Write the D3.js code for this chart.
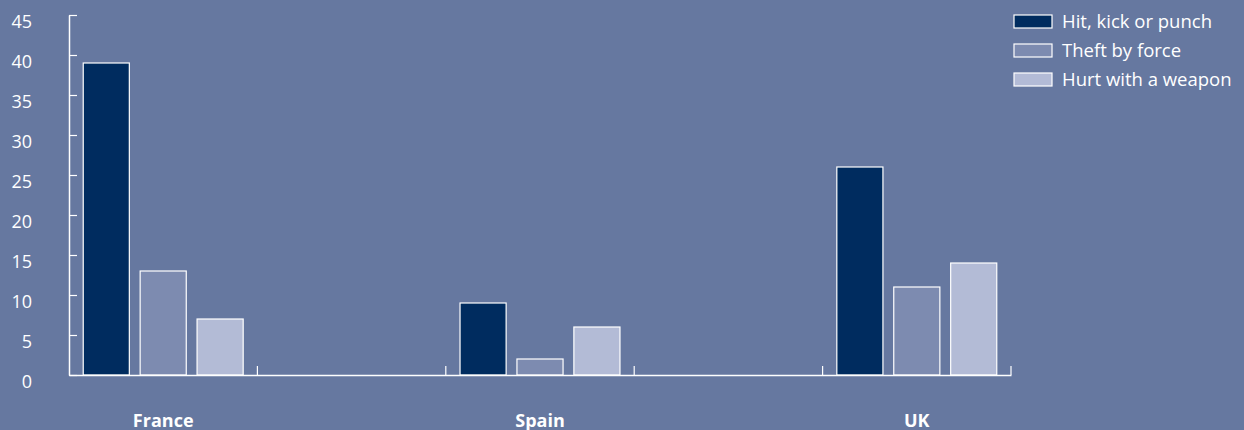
<!DOCTYPE html>
<html>
<head>
<meta charset="utf-8">
<script src="https://cdn.jsdelivr.net/npm/d3@7"></script>
<style>
  html, body { margin: 0; padding: 0; background: #6678a0; }
  svg { display: block; }
</style>
</head>
<body>
<script>
// --- data ---
const slots = ["France", "", "Spain", "", "UK"]; // empty slots are gaps on the x axis
const countries = ["France", "Spain", "UK"];
const series = ["Hit, kick or punch", "Theft by force", "Hurt with a weapon"];
const hitKickPunch = [39, 9, 26];
const theftByForce = [13, 2, 11];
const hurtWithWeapon = [7, 6, 14];
const yTicks = [0, 5, 10, 15, 20, 25, 30, 35, 40, 45];

const seriesValues = [hitKickPunch, theftByForce, hurtWithWeapon];
const colors = ["#002c5f", "#7d8bb0", "#b3bbd6"];

const width = 1244;
const height = 430;
const margin = { top: 15, right: 233, bottom: 55, left: 69 };
const font = "'Open Sans', 'Noto Sans', sans-serif";

const rows = countries.map((c, i) => ({
  slot: slots.indexOf(c),
  values: series.map((s, j) => ({ key: s, value: seriesValues[j][i] })),
}));

const x = d3
  .scaleBand()
  .domain(d3.range(slots.length))
  .range([margin.left, width - margin.right])
  .padding(0);

const x1 = d3
  .scaleBand()
  .domain(series)
  .range([0, x.bandwidth()])
  .paddingInner(0.19)
  .paddingOuter(0.25);

const y = d3
  .scaleLinear()
  .domain([0, 45])
  .range([height - margin.bottom, margin.top]);

const color = d3.scaleOrdinal(series, colors);

const svg = d3
  .select("body")
  .append("svg")
  .attr("width", width)
  .attr("height", height)
  .style("font-family", font);

svg.append("rect").attr("width", width).attr("height", height).attr("fill", "#6678a0");

// Bars
svg
  .append("g")
  .selectAll("g")
  .data(rows)
  .join("g")
  .attr("transform", (d) => `translate(${x(d.slot)},0)`)
  .selectAll("rect")
  .data((d) => d.values)
  .join("rect")
  .attr("x", (d) => x1(d.key))
  .attr("y", (d) => y(d.value))
  .attr("width", x1.bandwidth())
  .attr("height", (d) => y(0) - y(d.value))
  .attr("fill", (d) => color(d.key))
  .attr("stroke", "#fff")
  .attr("stroke-width", 1.2);

// Y axis (ticks point inward)
svg
  .append("g")
  .attr("transform", `translate(${margin.left},0)`)
  .call(d3.axisLeft(y).tickValues(yTicks).tickSize(-8).tickSizeOuter(0).tickPadding(37))
  .call((g) => g.select(".domain").attr("stroke", "#fff").attr("stroke-width", 1.5))
  .call((g) => g.selectAll(".tick line").attr("stroke", "#fff").attr("stroke-width", 1.2))
  .call((g) =>
    g
      .selectAll(".tick text")
      .attr("fill", "#fff")
      .attr("font-size", 18)
      .attr("font-family", font)
      .attr("dy", "0.7em")
  );

// X axis with category labels
svg
  .append("g")
  .attr("transform", `translate(0,${y(0)})`)
  .call(d3.axisBottom(x).tickSize(0).tickSizeOuter(0).tickPadding(39).tickFormat((i) => slots[i]))
  .call((g) => g.select(".domain").attr("stroke", "#fff").attr("stroke-width", 1.5))
  .call((g) =>
    g
      .selectAll(".tick text")
      .attr("fill", "#fff")
      .attr("font-size", 18)
      .attr("font-weight", 700)
      .attr("font-family", font)
  );

// Boundary ticks between slots (pointing up)
const edges = d3.range(slots.length).map((i) => x(i)).concat([x.range()[1]]);
svg
  .append("g")
  .selectAll("line")
  .data(edges.slice(1))
  .join("line")
  .attr("x1", (d) => d)
  .attr("x2", (d) => d)
  .attr("y1", y(0))
  .attr("y2", y(0) - 9)
  .attr("stroke", "#fff")
  .attr("stroke-width", 1.2);

// Legend
const legend = svg
  .append("g")
  .attr("transform", "translate(1014,15)")
  .selectAll("g")
  .data(series)
  .join("g")
  .attr("transform", (d, i) => `translate(0,${i * 29})`);

legend
  .append("rect")
  .attr("width", 38)
  .attr("height", 13)
  .attr("fill", (d) => color(d))
  .attr("stroke", "#fff")
  .attr("stroke-width", 1.2);

legend
  .append("text")
  .attr("x", 48)
  .attr("y", 13)
  .attr("fill", "#fff")
  .attr("font-size", 18.5)
  .text((d) => d);
</script>
</body>
</html>
